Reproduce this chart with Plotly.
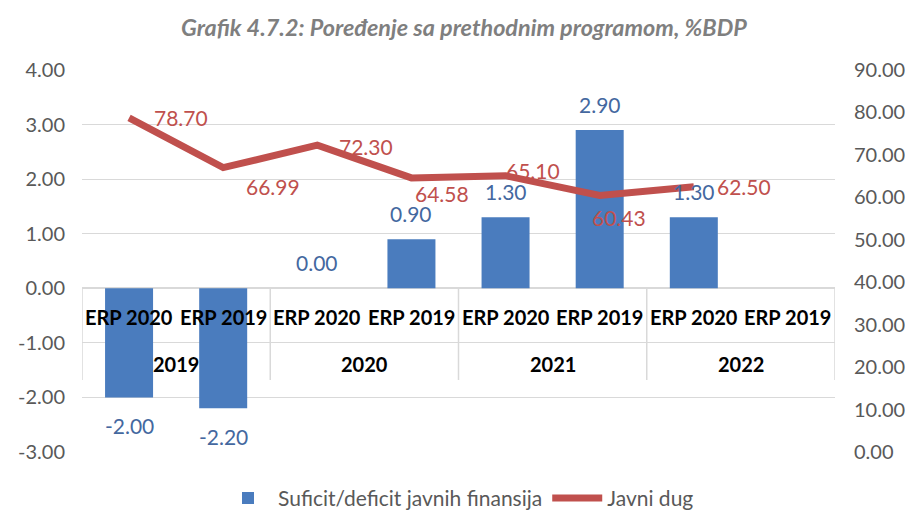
import plotly.graph_objects as go

programs = ["ERP 2020", "ERP 2019", "ERP 2020", "ERP 2019", "ERP 2020", "ERP 2019", "ERP 2020", "ERP 2019"]
years = ["2019", "2020", "2021", "2022"]
balance = [-2.00, -2.20, 0.00, 0.90, 1.30, 2.90, 1.30, None]
debt = [78.70, 66.99, 72.30, 64.58, 65.10, 60.43, 62.50, None]
left_ticks = [-3, -2, -1, 0, 1, 2, 3, 4]
left_tick_text = ["-3.00", "-2.00", "-1.00", "0.00", "1.00", "2.00", "3.00", "4.00"]
right_ticks = [0, 10, 20, 30, 40, 50, 60, 70, 80, 90]
right_tick_text = ["0.00", "10.00", "20.00", "30.00", "40.00", "50.00", "60.00", "70.00", "80.00", "90.00"]
# pixel offsets of the line's data labels from their points (label placement)
debt_label_shift = [(52, 0), (50, -19), (49, -1), (31, -16), (27, 5), (19, -22), (50, 0), (0, 0)]

x = list(range(len(programs)))
FONT = "Lato, 'Open Sans', sans-serif"
BLUE = "#4a7cbe"
RED = "#c0504d"
LABEL_BLUE = "#44689f"

fig = go.Figure()
fig.add_trace(go.Bar(
    x=x, y=balance, name="Suficit/deficit javnih finansija",
    marker=dict(color=BLUE, line=dict(width=0)),
    width=0.51, yaxis="y",
))
fig.add_trace(go.Scatter(
    x=x, y=debt, name="Javni dug", mode="lines",
    line=dict(color=RED, width=7),
    yaxis="y2", cliponaxis=False,
))

annotations = []
for i, v in enumerate(balance):
    if v is None:
        continue
    annotations.append(dict(x=i, y=v, xref="x", yref="y", text="%.2f" % v,
                            showarrow=False, yanchor="middle",
                            yshift=(-28 if v < 0 else 26),
                            font=dict(size=21, color=LABEL_BLUE, family=FONT)))
for i, v in enumerate(debt):
    if v is None:
        continue
    dx, dy = debt_label_shift[i]
    annotations.append(dict(x=i, y=v, xref="x", yref="y2", text="%.2f" % v,
                            showarrow=False, yanchor="middle", xanchor="center",
                            xshift=dx, yshift=dy,
                            font=dict(size=21, color=RED, family=FONT)))
for i, p in enumerate(programs):
    annotations.append(dict(x=i, y=0, xref="x", yref="y", text="<b>%s</b>" % p,
                            showarrow=False, yanchor="middle", yshift=-29,
                            font=dict(size=20, color="#000000", family=FONT)))
for j, yr in enumerate(years):
    annotations.append(dict(x=2 * j + 0.5, y=0, xref="x", yref="y", text="<b>%s</b>" % yr,
                            showarrow=False, yanchor="middle", yshift=-76,
                            font=dict(size=20, color="#000000", family=FONT)))
annotations.append(dict(x=0.5, y=1.0, xref="paper", yref="paper", yshift=43, xshift=5,
                        text="<b><i>Grafik 4.7.2: Poređenje sa prethodnim programom, %BDP</i></b>",
                        showarrow=False, xanchor="center", yanchor="middle",
                        font=dict(size=23.4, color="#7f7f7f", family=FONT)))

shapes = []
for b in [-0.5, 1.5, 3.5, 5.5, 7.5]:
    shapes.append(dict(type="line", xref="x", yref="y", x0=b, x1=b, y0=0, y1=-1.68,
                       line=dict(color="#d9d9d9", width=1.5), layer="below"))

fig.update_layout(
    width=905, height=504,
    margin=dict(l=74, r=78, t=62, b=60, autoexpand=False),
    paper_bgcolor="white", plot_bgcolor="white",
    font=dict(family=FONT, color="#595959", size=20),
    showlegend=True,
    legend=dict(orientation="h", x=0.5, xanchor="center", y=-0.175, yanchor="bottom",
                font=dict(size=21, color="#595959", family=FONT), itemwidth=50,
                bgcolor="rgba(0,0,0,0)", borderwidth=0, tracegroupgap=0),
    xaxis=dict(range=[-0.5, 7.5], showticklabels=False, showgrid=False, zeroline=False,
               ticks="", automargin=False),
    yaxis=dict(range=[-3, 4], tickvals=left_ticks, ticktext=left_tick_text, showgrid=True,
               gridcolor="#d9d9d9", gridwidth=1, zeroline=True, zerolinecolor="#d9d9d9",
               zerolinewidth=1.5, ticks="", tickfont=dict(size=20, color="#595959"),
               showline=False, automargin=False, ticklabelstandoff=16),
    yaxis2=dict(range=[0, 90], tickvals=right_ticks, ticktext=right_tick_text,
                overlaying="y", side="right",
                showgrid=False, zeroline=False, ticks="", automargin=False,
                tickfont=dict(size=20, color="#595959"), ticklabelstandoff=18),
    annotations=annotations,
    shapes=shapes,
)

fig.write_html("out.html")
